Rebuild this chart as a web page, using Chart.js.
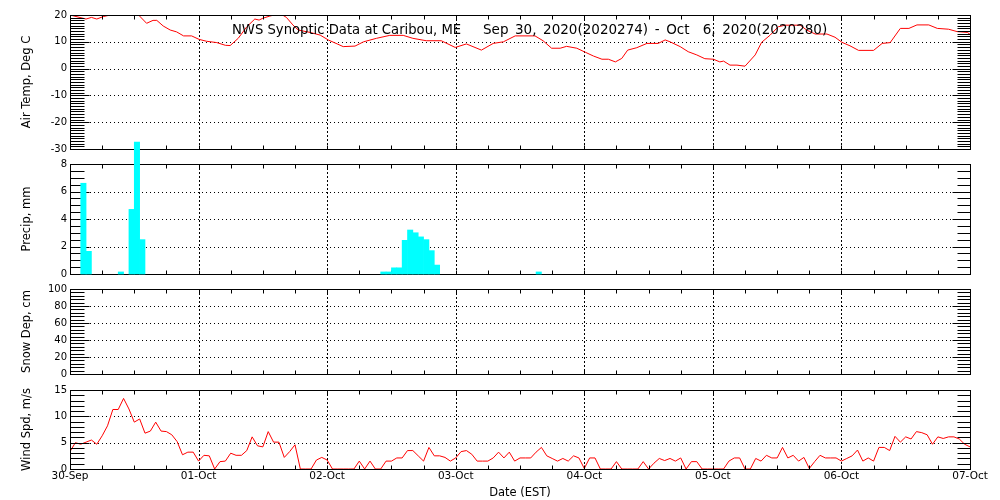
<!DOCTYPE html>
<html>
<head>
<meta charset="utf-8">
<script src="https://cdn.jsdelivr.net/npm/chart.js@4"></script>
<style>
  body { margin: 0; background: #fff; }
  #wrap { position: relative; width: 1000px; height: 500px; overflow: hidden; }
  #wrap canvas { position: absolute; left: 0; }
  .title { position: absolute; top: 23px; font-family: "DejaVu Sans"; line-height: 13px; white-space: pre; color: #000; }
  #title1 { left: 232px; font-size: 13.2px; }
  #title2 { left: 483px; font-size: 13.5px; word-spacing: 2.3px; }
</style>
</head>
<body>
<div id="wrap">
  <canvas id="temp" width="1000" height="160" style="top:0"></canvas>
  <canvas id="precip" width="1000" height="145" style="top:140px"></canvas>
  <canvas id="snow" width="1000" height="105" style="top:280px"></canvas>
  <canvas id="wind" width="1000" height="120" style="top:380px"></canvas>
  <span id="title1" class="title">NWS Synoptic Data at Caribou, ME</span>
  <span id="title2" class="title">Sep 30, 2020(2020274) - Oct  6, 2020(2020280)</span>
</div>
<script>
// hours since 30-Sep 00:00 EST
const dayLabels = ['30-Sep', '01-Oct', '02-Oct', '03-Oct', '04-Oct', '05-Oct', '06-Oct', '07-Oct'];

const tempHours = [0, 3, 4, 5, 6.2, 7.5, 9, 11, 12.8, 14.3, 15.5, 16.2, 17.4, 18.7, 19.9, 21.2, 22.7, 24.1, 25.5, 27.4,
  29, 29.9, 31.4, 33, 34.5, 35.3, 36, 37.3, 38.5, 39.5, 40.4, 41.6, 42.6, 44.8, 46.7, 48.2, 50, 51, 53.2, 54.8,
  57.2, 59.7, 62.2, 64, 66.5, 69.3, 71.9, 74, 76.8, 79, 80.9, 83.1, 86.8, 88.3, 89.9, 91.5, 92.7, 94.6, 96.2, 97.7,
  99.3, 100.5, 101.8, 103, 104.1, 105.8, 107.7, 109.8, 111.1, 112, 113.9, 115.4, 117, 118.5, 120.1, 121.3, 122, 123.2, 124.5, 126,
  127.9, 129.1, 130.7, 132.2, 133.5, 136.3, 137.5, 139.1, 141.3, 142.8, 144.1, 145.6, 147.2, 150, 151.6, 153.1, 155, 156.6, 158.1, 160.3,
  161.9, 164, 165.6, 167.5, 168];
const tempValues = [20, 18.5, 19.1, 18.5, 19.4, 20, 21.5, 21, 20, 16.9, 18, 18, 15.9, 14.4, 13.7, 12.2, 12.2, 10.9, 10.2, 9.7,
  8.7, 8.6, 11.3, 15.6, 18.5, 18.1, 18.8, 19.6, 20.2, 20.2, 19.1, 16.3, 14.4, 13.5, 12.5, 10.7, 9.1, 8.2, 8.4, 10,
  11.3, 12.4, 12.4, 11.3, 10.4, 10.4, 7.9, 9.2, 6.9, 9.4, 10, 12.2, 12.2, 10.4, 7.6, 7.6, 8.3, 7.6, 6.1, 4.7,
  3.5, 3.5, 2.5, 3.8, 6.9, 7.8, 9.4, 9.4, 10.7, 10, 8.2, 6.3, 5.1, 3.7, 3.5, 2.5, 2.8, 1.3, 1.3, 0.9,
  5.1, 9.8, 12.5, 15.6, 16.2, 16.2, 14.4, 12.9, 12.9, 11.7, 9.8, 8.5, 6.8, 6.8, 9.4, 9.7, 15, 15, 16.3, 16.3,
  15, 14.7, 13.8, 13.5, 12.8];

// hourly precip, listed by the hour that ends each accumulation
const precipHours = [3, 4, 10, 12, 13, 14, 59, 60, 61, 62, 63, 64, 65, 66, 67, 68, 69, 88];
const precipValues = [6.6, 1.65, 0.15, 4.7, 9.6, 2.5, 0.15, 0.15, 0.45, 0.45, 2.45, 3.2, 3.0, 2.7, 2.5, 1.7, 0.65, 0.15];

// no snow in this period
const snowHours = [];
const snowValues = [];

// hourly wind speed, hour 0..168
const windValues = [3.3, 5.0, 4.7, 5.1, 5.5, 4.7, 6.3, 8.2, 11.3, 11.3, 13.4, 11.4, 8.9, 9.5, 6.8, 7.2, 8.9, 7.2, 7.1, 6.5,
  5.2, 2.7, 3.2, 3.2, 1.5, 2.6, 2.5, 0, 1.4, 1.5, 3.0, 2.6, 2.6, 3.5, 6.1, 4.4, 4.2, 7.1, 5.1, 5.1,
  2.2, 3.3, 4.6, 0, 0, 0, 1.7, 2.2, 1.7, 0, 0, 0, 0, 0, 1.5, 0, 1.5, 0, 0, 1.5,
  1.5, 2.1, 2.1, 3.5, 3.5, 2.5, 1.5, 4.1, 2.5, 2.5, 2.2, 1.5, 2.1, 3.3, 3.5, 2.8, 1.5, 1.5, 1.5, 2.1,
  3.2, 2.1, 3.2, 1.5, 2.1, 2.1, 2.1, 3.2, 4.1, 2.5, 2.0, 1.5, 2.0, 1.5, 2.5, 2.1, 0.1, 2.1, 2.1, 0,
  0, 0, 1.4, 0, 0, 0, 0, 1.4, 0, 1.1, 2.0, 1.6, 2.0, 1.5, 2.1, 0, 1.4, 1.4, 0, 0,
  0, 0, 0, 1.5, 2.1, 2.1, 0, 0, 2.0, 1.5, 2.6, 2.1, 2.1, 4.1, 2.1, 2.6, 1.5, 2.2, 0.1, 1.4,
  2.6, 2.1, 2.1, 2.1, 1.5, 2.0, 2.5, 3.6, 1.5, 2.1, 1.5, 4.1, 4.1, 3.5, 6.2, 5.1, 6.1, 5.7, 7.1, 6.9,
  6.5, 4.7, 6.1, 5.8, 6.1, 6.1, 5.7, 4.7, 4.2];

Chart.defaults.font.family = '"DejaVu Sans"';
Chart.defaults.color = '#000';

function seg(ctx, x1, y1, x2, y2) { ctx.moveTo(x1, y1); ctx.lineTo(x2, y2); }
const snap = v => Math.round(v) + 0.5;

// dotted grid, then the boxed frame with IDL style inward ticks
function drawGrid(chart, o) {
  const { ctx, chartArea: a, scales: { x, y } } = chart;
  ctx.save();
  ctx.strokeStyle = '#000';
  ctx.lineWidth = 1;
  ctx.beginPath();
  ctx.setLineDash([1, 3]);
  for (let v = y.min + o.yMajor; v < y.max - 1e-9; v += o.yMajor) {
    const py = snap(y.getPixelForValue(v));
    seg(ctx, a.left, py, a.right, py);
  }
  ctx.stroke();
  ctx.beginPath();
  ctx.setLineDash([2, 2]);
  for (let v = x.min + 24; v < x.max; v += 24) {
    const px = snap(x.getPixelForValue(v));
    seg(ctx, px, a.top, px, a.bottom);
  }
  ctx.stroke();
  ctx.restore();
}

function drawFrame(chart, o) {
  const { ctx, chartArea: a, scales: { x, y } } = chart;
  const L = snap(a.left), R = snap(a.right), T = snap(a.top), B = snap(a.bottom);
  ctx.save();
  ctx.strokeStyle = '#000';
  ctx.lineWidth = 1;
  ctx.setLineDash([]);
  ctx.strokeRect(L, T, R - L, B - T);
  ctx.beginPath();
  for (let v = y.min; v <= y.max + 1e-9; v += o.yMinor) {
    const py = snap(y.getPixelForValue(v));
    const major = Math.abs(v / o.yMajor - Math.round(v / o.yMajor)) < 1e-6;
    seg(ctx, L, py, L + (major ? 19 : 14), py);
    seg(ctx, R, py, R - (major ? 18 : 13), py);
  }
  for (let v = x.min; v <= x.max; v += 6) {
    const px = snap(x.getPixelForValue(v));
    seg(ctx, px, B, px, B - 4);
    seg(ctx, px, T, px, T + 4);
  }
  ctx.stroke();
  ctx.restore();
}

const idlFrame = {
  id: 'idlFrame',
  beforeDatasetsDraw(chart, args, o) {
    drawGrid(chart, o);
    if (!o.onTop) drawFrame(chart, o);
  },
  afterDatasetsDraw(chart, args, o) {
    if (o.onTop) drawFrame(chart, o);
  }
};

function makeOptions(cfg) {
  return {
    responsive: false,
    animation: false,
    devicePixelRatio: 1,
    layout: { padding: { top: cfg.padTop, bottom: cfg.padBottom, left: 0, right: 30 } },
    plugins: {
      legend: { display: false },
      tooltip: { enabled: false },
      idlFrame: { yMinor: cfg.yMinor, yMajor: cfg.yMajor, onTop: cfg.onTop }
    },
    scales: {
      x: {
        type: 'linear', min: 0, max: 168, offset: false,
        grid: { display: false, drawTicks: false }, border: { display: false },
        ticks: {
          display: !!cfg.showX, stepSize: 24, autoSkip: false, maxRotation: 0, padding: 1,
          font: { size: 10.5 },
          callback: v => dayLabels[v / 24]
        },
        title: { display: !!cfg.showX, text: 'Date (EST)', font: { size: 11.5 }, padding: { top: 0, bottom: 0 } },
        afterFit: s => { s.height = cfg.showX ? 31 : 0; }
      },
      y: {
        min: cfg.yMin, max: cfg.yMax,
        grid: { display: false, drawTicks: false }, border: { display: false },
        ticks: { stepSize: cfg.yMajor, padding: 3, font: { size: 10 } },
        title: { display: true, text: cfg.yTitle, font: { size: 11.5 }, padding: { top: 20, bottom: 0 } },
        afterFit: s => { s.width = 70; }
      }
    }
  };
}

new Chart(document.getElementById('temp'), {
  type: 'line',
  data: { datasets: [{
    data: tempHours.map((h, i) => ({ x: h, y: tempValues[i] })),
    borderColor: '#ff0000', borderWidth: 1, pointRadius: 0, tension: 0
  }] },
  options: makeOptions({ padTop: 15, padBottom: 11, yMin: -30, yMax: 20, yMajor: 10, yMinor: 1,
    yTitle: 'Air Temp, Deg C', onTop: true }),
  plugins: [idlFrame]
});

new Chart(document.getElementById('precip'), {
  type: 'bar',
  data: { datasets: [{
    data: precipHours.map((h, i) => ({ x: h - 0.5, y: precipValues[i] })),
    backgroundColor: '#00ffff', borderWidth: 0,
    barPercentage: 1, categoryPercentage: 1, clip: false
  }] },
  options: makeOptions({ padTop: 24, padBottom: 11, yMin: 0, yMax: 8, yMajor: 2, yMinor: 0.5,
    yTitle: 'Precip, mm', onTop: false }),
  plugins: [idlFrame]
});

new Chart(document.getElementById('snow'), {
  type: 'line',
  data: { datasets: [{
    data: snowHours.map((h, i) => ({ x: h, y: snowValues[i] })),
    borderColor: '#ff0000', borderWidth: 1, pointRadius: 0
  }] },
  options: makeOptions({ padTop: 9, padBottom: 11, yMin: 0, yMax: 100, yMajor: 20, yMinor: 4,
    yTitle: 'Snow Dep, cm', onTop: true }),
  plugins: [idlFrame]
});

new Chart(document.getElementById('wind'), {
  type: 'line',
  data: { datasets: [{
    data: windValues.map((v, i) => ({ x: i, y: v })),
    borderColor: '#ff0000', borderWidth: 1, pointRadius: 0, tension: 0
  }] },
  options: makeOptions({ padTop: 10, padBottom: 0, yMin: 0, yMax: 15, yMajor: 5, yMinor: 1,
    yTitle: 'Wind Spd, m/s', onTop: true, showX: true }),
  plugins: [idlFrame]
});
</script>
</body>
</html>
